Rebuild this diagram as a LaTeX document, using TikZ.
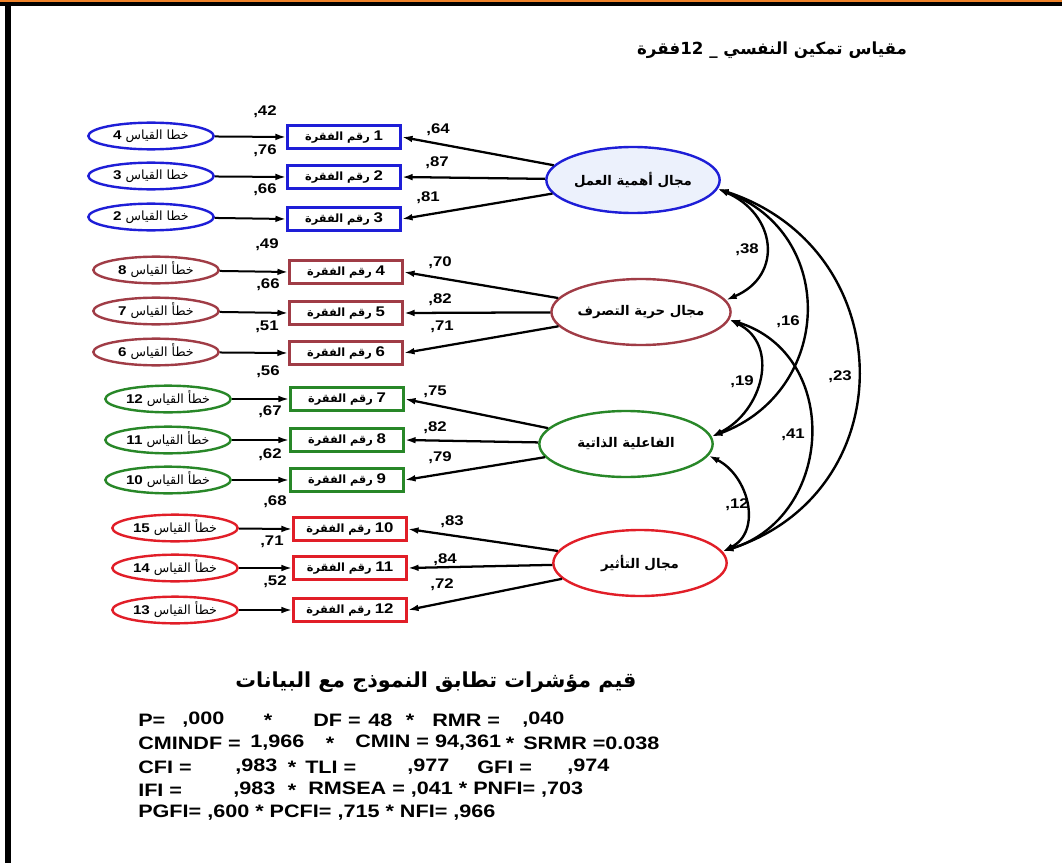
\documentclass[tikz,border=0pt]{standalone}
\usepackage{fontspec}
\setmainfont{Liberation Sans}
\newfontfamily\arb[Script=Arabic]{DejaVu Sans}
\newfontfamily\arbB[Script=Arabic]{DejaVu Sans Bold}
\newfontfamily\latB[FakeStretch=1.2]{Liberation Sans Bold}
\TeXXeTstate=1
\usetikzlibrary{arrows.meta,shapes.geometric}

\definecolor{cblue}{RGB}{30,30,215}
\definecolor{cbrown}{RGB}{160,60,70}
\definecolor{cgreen}{RGB}{40,135,40}
\definecolor{cred}{RGB}{225,30,40}
\definecolor{lightblue}{RGB}{236,241,252}
\definecolor{frameorange}{RGB}{240,130,40}

% label of an observed item: Arabic words, then a bold number on the right
\newcommand\itemlbl[1]{{\arbB\fontsize{8.5}{9}\selectfont الفقرة}\ {\arbB\fontsize{8.5}{9}\selectfont رقم}\ {\latB\fontsize{10.5}{12}\selectfont #1}}
% label of an error term
\newcommand\errlbl[2]{\beginR #1 القياس {\latB\beginL#2\endL}\endR}

\begin{document}
\begin{tikzpicture}[x=0.75pt,y=0.75pt,
  conn/.style={line width=1.5pt,-{Latex[length=8pt,width=5pt]}},
  cov/.style={line width=1.8pt,{Latex[length=8pt,width=5pt]}-{Latex[length=8pt,width=5pt]}},
  errnode/.style={ellipse,draw=#1,line width=1.8pt,fill=white,minimum width=94pt,minimum height=20pt,inner sep=0pt,font=\arb\fontsize{9.5}{10}\selectfont},
  itemnode/.style={rectangle,draw=#1,line width=1.8pt,fill=white,minimum width=85pt,minimum height=17pt,inner sep=0pt},
  latent/.style={ellipse,draw=#1,line width=1.8pt,fill=white,minimum width=130pt,minimum height=49.5pt,inner sep=0pt,font=\arbB\fontsize{10}{12}\selectfont},
  coef/.style={font=\latB\fontsize{10.5}{12}\selectfont,inner sep=0pt},
  fitline/.style={font=\latB\fontsize{13.5}{15}\selectfont,anchor=west,inner sep=0pt}
]
\useasboundingbox (0,0) rectangle (1062,-863);
% frame
\fill[frameorange] (0,0) rectangle (1062,-2.5);
\fill[black] (0,-2.5) rectangle (1062,-6.5);
\fill[black] (5,-2.5) rectangle (10.5,-863);

% title
\node[font=\arbB\fontsize{12.5}{15}\selectfont,inner sep=0pt] (title) at (772,-50)
  {\beginR مقياس تمكين النفسي \_ \beginL12\endL فقرة\endR};

% latent factors
\node[latent=cblue,fill=lightblue] (L1) at (633,-180) {\beginR مجال أهمية العمل\endR};
\node[latent=cbrown] (L2) at (641,-312) {\beginR مجال حرية التصرف\endR};
\node[latent=cgreen] (L3) at (626,-444) {\beginR الفاعلية الذاتية\endR};
\node[latent=cred]   (L4) at (640,-563) {\beginR مجال التأثير\endR};

% observed items
\node[itemnode=cblue]  (b1)  at (344,-137) {\itemlbl{1}};
\node[itemnode=cblue]  (b2)  at (344,-177) {\itemlbl{2}};
\node[itemnode=cblue]  (b3)  at (344,-219) {\itemlbl{3}};
\node[itemnode=cbrown] (b4)  at (346,-272) {\itemlbl{4}};
\node[itemnode=cbrown] (b5)  at (346,-313) {\itemlbl{5}};
\node[itemnode=cbrown] (b6)  at (346,-353) {\itemlbl{6}};
\node[itemnode=cgreen] (b7)  at (347,-399) {\itemlbl{7}};
\node[itemnode=cgreen] (b8)  at (347,-440) {\itemlbl{8}};
\node[itemnode=cgreen] (b9)  at (347,-480) {\itemlbl{9}};
\node[itemnode=cred]   (b10) at (350,-529) {\itemlbl{10}};
\node[itemnode=cred]   (b11) at (350,-568) {\itemlbl{11}};
\node[itemnode=cred]   (b12) at (350,-610) {\itemlbl{12}};

% error terms
\node[errnode=cblue]  (e4)  at (151,-136) {\errlbl{خطا}{4}};
\node[errnode=cblue]  (e3)  at (151,-176) {\errlbl{خطا}{3}};
\node[errnode=cblue]  (e2)  at (151,-217) {\errlbl{خطا}{2}};
\node[errnode=cbrown] (e8)  at (156,-270) {\errlbl{خطأ}{8}};
\node[errnode=cbrown] (e7)  at (156,-311) {\errlbl{خطأ}{7}};
\node[errnode=cbrown] (e6)  at (156,-352) {\errlbl{خطأ}{6}};
\node[errnode=cgreen] (e12) at (168,-399) {\errlbl{خطأ}{12}};
\node[errnode=cgreen] (e11) at (168,-440) {\errlbl{خطأ}{11}};
\node[errnode=cgreen] (e10) at (168,-480) {\errlbl{خطأ}{10}};
\node[errnode=cred]   (e15) at (175,-528) {\errlbl{خطأ}{15}};
\node[errnode=cred]   (e14) at (175,-568) {\errlbl{خطأ}{14}};
\node[errnode=cred]   (e13) at (175,-610) {\errlbl{خطأ}{13}};

% error paths
\foreach \e/\b in {e4/b1,e3/b2,e2/b3,e8/b4,e7/b5,e6/b6,e12/b7,e11/b8,e10/b9,e15/b10,e14/b11,e13/b12}
  \draw[conn] (\e) -- (\b.west);

% loadings
\foreach \l/\b in {L1/b1,L1/b2,L1/b3,L2/b4,L2/b5,L2/b6,L3/b7,L3/b8,L3/b9,L4/b10,L4/b11,L4/b12}
  \draw[conn,line width=1.7pt] (\l) -- (\b.east);

% factor covariances
\draw[cov] (L1.-6) .. controls +(58,-25) and +(58,25) .. (L2.8);
\draw[cov] (L1.-6) .. controls +(121,-45) and +(121,45) .. (L3.5);
\draw[cov] (L1.-6) .. controls +(183,-60) and +(183,60) .. (L4.8);
\draw[cov] (L2.-5) .. controls +(51,-25) and +(51,25) .. (L3.5);
\draw[cov] (L2.-5) .. controls +(112,-35) and +(112,35) .. (L4.8);
\draw[cov] (L3.-8) .. controls +(40,-20) and +(40,20) .. (L4.8);

% loading coefficients
\node[coef] (k1)  at (438,-130) {,64};
\node[coef] (k2)  at (437,-163) {,87};
\node[coef] (k3)  at (428,-198) {,81};
\node[coef] (k4)  at (440,-263) {,70};
\node[coef] (k5)  at (440,-300) {,82};
\node[coef] (k6)  at (442,-327) {,71};
\node[coef] (k7)  at (435,-392) {,75};
\node[coef] (k8)  at (435,-428) {,82};
\node[coef] (k9)  at (440,-458) {,79};
\node[coef] (k10) at (452,-522) {,83};
\node[coef] (k11) at (445,-560) {,84};
\node[coef] (k12) at (442,-585) {,72};

% squared multiple correlations
\node[coef] (r1)  at (265,-112) {,42};
\node[coef] (r2)  at (265,-151) {,76};
\node[coef] (r3)  at (265,-190) {,66};
\node[coef] (r4)  at (267,-245) {,49};
\node[coef] (r5)  at (268,-285) {,66};
\node[coef] (r6)  at (267,-327) {,51};
\node[coef] (r7)  at (268,-372) {,56};
\node[coef] (r8)  at (270,-412) {,67};
\node[coef] (r9)  at (270,-455) {,62};
\node[coef] (r10) at (275,-502) {,68};
\node[coef] (r11) at (272,-542) {,71};
\node[coef] (r12) at (275,-582) {,52};

% covariance values
\node[coef] (c1) at (747,-250) {,38};
\node[coef] (c2) at (788,-322) {,16};
\node[coef] (c3) at (840,-377) {,23};
\node[coef] (c4) at (742,-382) {,19};
\node[coef] (c5) at (793,-435) {,41};
\node[coef] (c6) at (737,-505) {,12};

% fit indices
\node[font=\arbB\fontsize{15.5}{18}\selectfont,inner sep=0pt] (fittitle) at (436,-682)
  {\beginR قيم مؤشرات تطابق النموذج مع البيانات\endR};

\node[fitline] (f1a) at (138,-720) {P=};
\node[fitline] (f1b) at (182,-720) {,000};
\node[fitline,anchor=center] (f1c) at (268,-720) {*};
\node[fitline] (f1d) at (313,-720) {DF =};
\node[fitline] (f1e) at (368,-720) {48};
\node[fitline,anchor=center] (f1f) at (410,-720) {*};
\node[fitline] (f1g) at (432,-720) {RMR =};
\node[fitline] (f1h) at (522,-720) {,040};

\node[fitline] (f2a) at (138,-743) {CMINDF =};
\node[fitline] (f2b) at (250,-743) {1,966};
\node[fitline,anchor=center] (f2c) at (330,-743) {*};
\node[fitline] (f2d) at (355,-743) {CMIN = 94,361};
\node[fitline,anchor=center] (f2e) at (510,-743) {*};
\node[fitline] (f2f) at (523,-743) {SRMR =0.038};

\node[fitline] (f3a) at (138,-767) {CFI =};
\node[fitline] (f3b) at (235,-767) {,983};
\node[fitline,anchor=center] (f3c) at (292,-767) {*};
\node[fitline] (f3d) at (305,-767) {TLI =};
\node[fitline] (f3e) at (407,-767) {,977};
\node[fitline] (f3f) at (477,-767) {GFI =};
\node[fitline] (f3g) at (567,-767) {,974};

\node[fitline] (f4a) at (138,-790) {IFI =};
\node[fitline] (f4b) at (233,-790) {,983};
\node[fitline,anchor=center] (f4c) at (292,-790) {*};
\node[fitline] (f4d) at (308,-790) {RMSEA = ,041 * PNFI= ,703};

\node[fitline] (f5a) at (138,-813) {PGFI= ,600 * PCFI= ,715 * NFI= ,966};
\end{tikzpicture}
\end{document}
